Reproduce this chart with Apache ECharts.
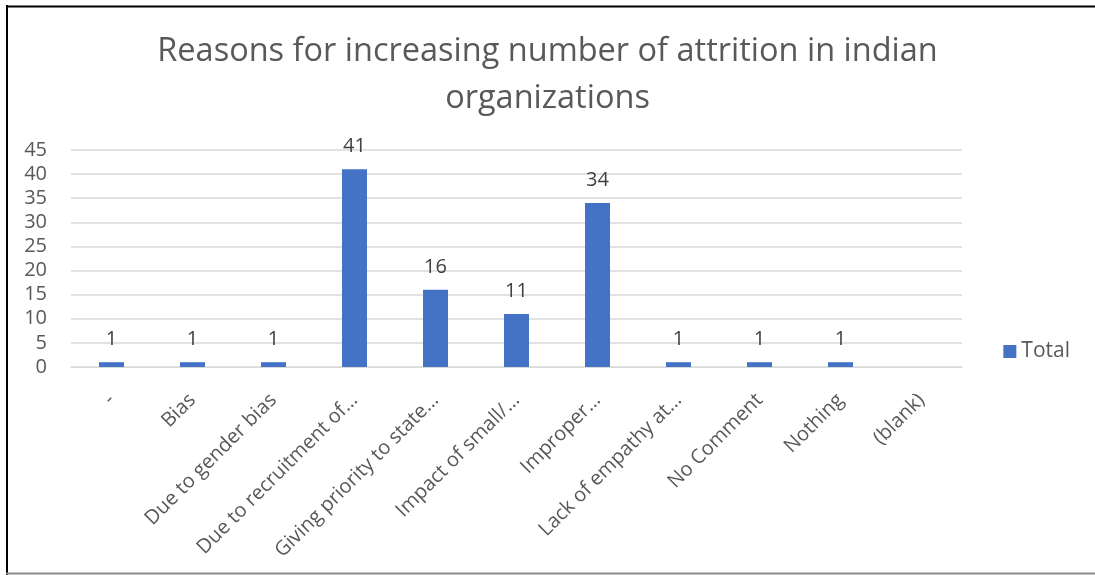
<!DOCTYPE html>
<html>
<head>
<meta charset="utf-8">
<script src="https://cdn.jsdelivr.net/npm/echarts@6/dist/echarts.min.js"></script>
<style>
  html, body { margin: 0; padding: 0; background: #ffffff; }
  #chart { width: 1095px; height: 575px; }
</style>
</head>
<body>
<div id="chart"></div>
<script>
// Attrition reasons and their response counts
const categories = [
  '-', 'Bias', 'Due to gender bias', 'Due to recruitment of…',
  'Giving priority to state…', 'Impact of small/…', 'Improper…',
  'Lack of empathy at…', 'No Comment', 'Nothing', '(blank)'
];
const totals = [1, 1, 1, 41, 16, 11, 34, 1, 1, 1, null];
const seriesName = 'Total';
const titleText = 'Reasons for increasing number of attrition in indian\norganizations';

const FONT = '"Open Sans", "Liberation Sans", sans-serif';
const chart = echarts.init(document.getElementById('chart'), null, { renderer: 'canvas' });

chart.setOption({
  backgroundColor: '#ffffff',
  animation: false,
  title: {
    text: titleText,
    left: 'center',
    top: 23,
    textStyle: {
      fontFamily: FONT,
      fontSize: 32.5,
      fontWeight: 'normal',
      color: '#595959',
      lineHeight: 47
    }
  },
  legend: {
    data: [seriesName],
    right: 20,
    top: 336,
    orient: 'vertical',
    itemWidth: 13,
    itemHeight: 13,
    itemGap: 6,
    icon: 'rect',
    textStyle: { fontFamily: FONT, fontSize: 21, color: '#595959' }
  },
  grid: { left: 71, right: 133, top: 150, bottom: 208, containLabel: false },
  xAxis: {
    type: 'category',
    data: categories,
    axisLine: { show: true, lineStyle: { color: '#D9D9D9', width: 1 } },
    axisTick: { show: false },
    axisLabel: {
      rotate: 45,
      interval: 0,
      margin: 30,
      fontFamily: FONT,
      fontSize: 20,
      color: '#595959'
    }
  },
  yAxis: {
    type: 'value',
    min: 0,
    max: 45,
    interval: 5,
    axisLine: { show: false },
    axisTick: { show: false },
    axisLabel: { margin: 24, fontFamily: FONT, fontSize: 20, color: '#595959' },
    splitLine: { lineStyle: { color: '#D9D9D9', width: 1.5 } }
  },
  series: [{
    name: seriesName,
    type: 'bar',
    data: totals,
    barWidth: 25,
    itemStyle: { color: '#4472C4' },
    label: {
      show: true,
      position: 'top',
      distance: 13,
      fontFamily: FONT,
      fontSize: 20,
      color: '#404040'
    }
  }],
  graphic: [
    { type: 'line', shape: { x1: 7, y1: 5, x2: 7, y2: 575 }, style: { stroke: '#000000', lineWidth: 2 } },
    { type: 'line', shape: { x1: 6, y1: 6.5, x2: 1095, y2: 6.5 }, style: { stroke: '#000000', lineWidth: 2 } },
    { type: 'line', shape: { x1: 6, y1: 573.5, x2: 1095, y2: 573.5 }, style: { stroke: '#8c8c8c', lineWidth: 2 } }
  ]
});
</script>
</body>
</html>
